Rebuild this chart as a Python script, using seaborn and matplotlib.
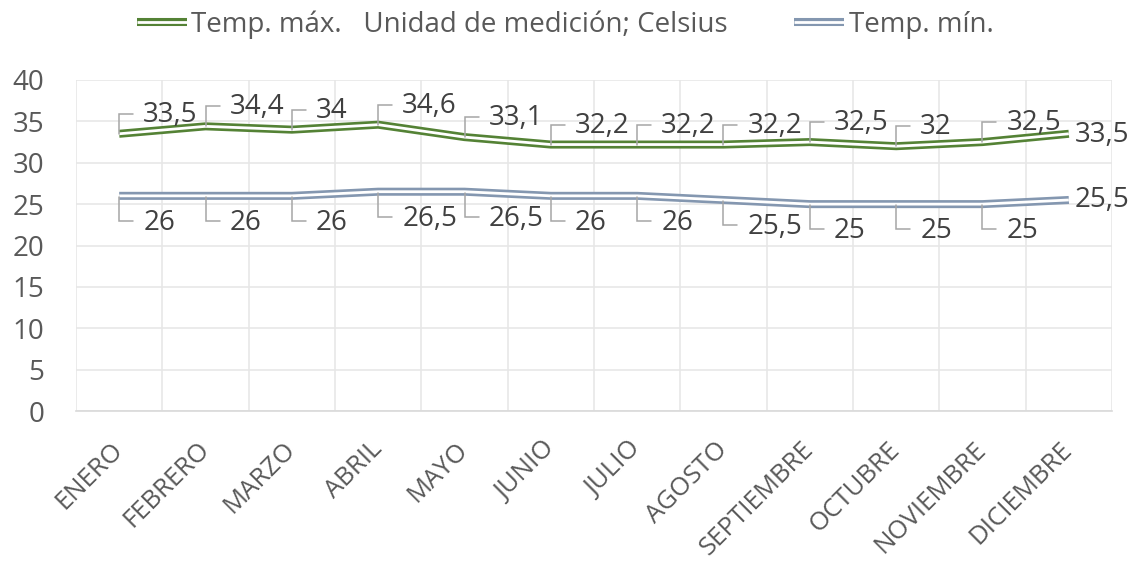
import matplotlib
matplotlib.use("Agg")
import matplotlib.pyplot as plt
import matplotlib.patheffects as pe
import matplotlib.transforms as mtransforms
from matplotlib.lines import Line2D
import numpy as np
import pandas as pd
import seaborn as sns

# --- data -------------------------------------------------------------
months = ["ENERO", "FEBRERO", "MARZO", "ABRIL", "MAYO", "JUNIO", "JULIO",
          "AGOSTO", "SEPTIEMBRE", "OCTUBRE", "NOVIEMBRE", "DICIEMBRE"]
temp_max = [33.5, 34.4, 34.0, 34.6, 33.1, 32.2, 32.2, 32.2, 32.5, 32.0, 32.5, 33.5]
temp_min = [26.0, 26.0, 26.0, 26.5, 26.5, 26.0, 26.0, 25.5, 25.0, 25.0, 25.0, 25.5]
name_max = "Temp. máx.   Unidad de medición; Celsius"
name_min = "Temp. mín."
y_ticks = [0, 5, 10, 15, 20, 25, 30, 35, 40]

df = pd.DataFrame({
    "mes": months * 2,
    "valor": temp_max + temp_min,
    "serie": [name_max] * len(months) + [name_min] * len(months),
})

# --- style ------------------------------------------------------------
sns.set_theme(style="white")
plt.rcParams["font.family"] = ["Open Sans", "DejaVu Sans"]

GREEN = "#548235"
BLUEGREY = "#8497B0"
GRID = "#E6E6E6"
TICK_TXT = "#595959"
LABEL_TXT = "#404040"
LEADER = "#A6A6A6"
DPI = 100
PX = 72.0 / DPI  # points per pixel

fig = plt.figure(figsize=(11.37, 5.74), dpi=DPI)
ax = fig.add_axes([76 / 1137, 163 / 574, 1036 / 1137, 331 / 574])

sns.lineplot(data=df, x="mes", y="valor", hue="serie",
             palette={name_max: GREEN, name_min: BLUEGREY},
             sort=False, legend=False, ax=ax)


def double_line(color):
    return [pe.Stroke(linewidth=5.8, foreground=color, capstyle="butt"),
            pe.Stroke(linewidth=2.0, foreground="white", capstyle="butt")]


for line in ax.lines:
    line.set_path_effects(double_line(line.get_color()))
    line.set_solid_joinstyle("miter")

# --- axes & grid --------------------------------------------------------
n = len(months)
ax.set_xlim(-0.5, n - 0.5)
ax.set_ylim(0, 40)
ax.set_yticks(y_ticks)
ax.set_xticks(range(n))
ax.set_xticklabels(months)
ax.set_xticks(np.arange(-0.5, n, 1.0), minor=True)
ax.set_xlabel("")
ax.set_ylabel("")
ax.grid(axis="y", which="major", color=GRID, linewidth=1.1)
ax.grid(axis="x", which="minor", color=GRID, linewidth=1.1)
ax.grid(axis="x", which="major", visible=False)
ax.set_axisbelow(True)
for side in ["top", "right", "left"]:
    ax.spines[side].set_visible(False)
ax.spines["bottom"].set_color("#D9D9D9")
ax.spines["bottom"].set_linewidth(1.2)

ax.tick_params(axis="both", which="both", length=0)
ax.tick_params(axis="y", labelsize=20, labelcolor=TICK_TXT, pad=23)
ax.tick_params(axis="x", which="major", labelsize=18.5, labelcolor=TICK_TXT, pad=25)
for lab in ax.get_xticklabels():
    lab.set_rotation(45)
    lab.set_ha("right")
    lab.set_va("center")
    lab.set_rotation_mode("anchor")


# --- data labels with callout leaders ----------------------------------
def fmt(v):
    s = f"{v:.1f}".rstrip("0").rstrip(".")
    return s.replace(".", ",")


def leader(i, v, pts_px):
    tr = (mtransforms.Affine2D().scale(DPI / 72.0 * PX)
          + mtransforms.ScaledTranslation(i, v, ax.transData))
    xs, ys = zip(*pts_px)
    ax.add_line(Line2D(xs, ys, transform=tr, color=LEADER,
                       linewidth=1.1, solid_joinstyle="miter", zorder=4))


for i, (vmax, vmin) in enumerate(zip(temp_max, temp_min)):
    if i == n - 1:
        ax.annotate(fmt(vmax), xy=(i, vmax), xytext=(6 * PX, -1 * PX),
                    textcoords="offset points", ha="left", va="center",
                    fontsize=20, color=LABEL_TXT, zorder=5)
        ax.annotate(fmt(vmin), xy=(i, vmin), xytext=(6 * PX, 0),
                    textcoords="offset points", ha="left", va="center",
                    fontsize=20, color=LABEL_TXT, zorder=5)
        continue
    leader(i, vmax, [(0, 0), (0, 20), (14, 20)])
    ax.annotate(fmt(vmax), xy=(i, vmax), xytext=(24 * PX, 19 * PX),
                textcoords="offset points", ha="left", va="center",
                fontsize=20, color=LABEL_TXT, zorder=5)
    leader(i, vmin, [(0, -1), (0, -25), (14, -25)])
    ax.annotate(fmt(vmin), xy=(i, vmin), xytext=(24 * PX, -27 * PX),
                textcoords="offset points", ha="left", va="center",
                fontsize=20, color=LABEL_TXT, zorder=5)

# --- legend ---------------------------------------------------------------
handles = []
for name, color in [(name_max, GREEN), (name_min, BLUEGREY)]:
    h = Line2D([], [], color=color, linewidth=1)
    h.set_path_effects(double_line(color))
    handles.append(h)
fig.legend(handles, [name_max, name_min], loc="center",
           bbox_to_anchor=(0.497, 0.957), ncol=2, frameon=False,
           fontsize=20, labelcolor=TICK_TXT, handlelength=1.8,
           handletextpad=0.15, columnspacing=2.4)

fig.savefig("out.png", dpi=DPI, facecolor="white")
